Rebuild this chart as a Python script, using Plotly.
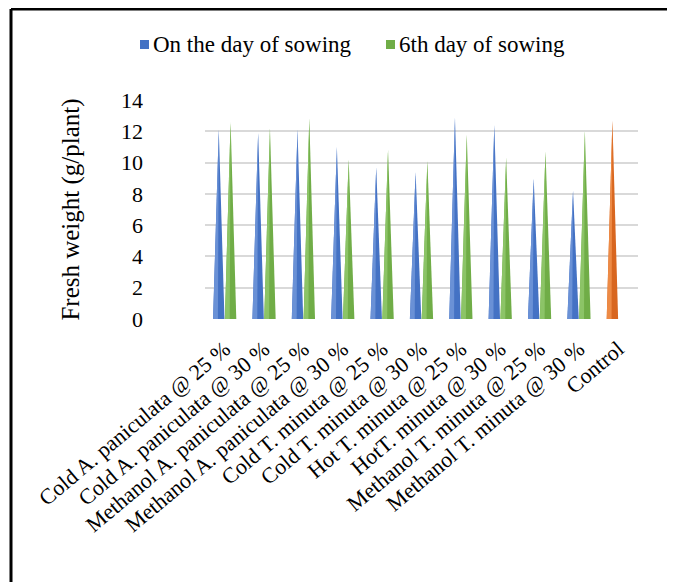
import plotly.graph_objects as go

# categories and values
categories = [
    "Cold A. paniculata @ 25 %",
    "Cold A. paniculata @ 30 %",
    "Methanol A. paniculata @ 25 %",
    "Methanol A. paniculata @ 30 %",
    "Cold T. minuta @ 25 %",
    "Cold T. minuta @ 30 %",
    "Hot T. minuta @ 25 %",
    "HotT. minuta @ 30 %",
    "Methanol T. minuta @ 25 %",
    "Methanol T. minuta @ 30 %",
    "Control",
]
day_of_sowing = [12.1, 11.9, 12.1, 11.0, 9.7, 9.4, 12.9, 12.4, 9.0, 8.2, 12.7]
sixth_day = [12.6, 12.2, 12.8, 10.2, 10.8, 10.1, 11.8, 10.3, 10.7, 12.0, None]
series_names = ["On the day of sowing", "6th day of sowing"]

BLUE = "#4472C4"
BLUE_LIGHT = "#6a91d6"
GREEN = "#70AD47"
GREEN_LIGHT = "#8cc467"
ORANGE = "#D8661F"
ORANGE_LIGHT = "#ed8a45"

FONT = "Liberation Serif"

# the page body adds 8px around the figure, so work in screen pixels minus that
OFF = 8
W, H = 675, 582
PL, PT, PW, PH = 205, 100, 433, 219   # plot area on screen
ML, MT = PL - OFF, PT - OFF
MR, MB = W - ML - PW, H - MT - PH


def px_x(x):
    # screen pixel -> paper x
    return (x - PL) / PW


def px_y(y):
    # screen pixel -> paper y
    return 1 - (y - PT) / PH


fig = go.Figure()


def add_cone(xc, val, color, light, half=0.145):
    # main body of the cone
    fig.add_trace(go.Scatter(
        x=[xc - half, xc, xc + half, xc - half],
        y=[0, val, 0, 0],
        fill="toself", fillcolor=color, mode="lines",
        line=dict(width=0, color=color), hoverinfo="skip", showlegend=False,
    ))
    # lighter left side for a bit of shading
    fig.add_trace(go.Scatter(
        x=[xc - half, xc, xc - half * 0.15, xc - half],
        y=[0, val, 0, 0],
        fill="toself", fillcolor=light, mode="lines",
        line=dict(width=0, color=light), hoverinfo="skip", showlegend=False,
    ))


for i, cat in enumerate(categories):
    v1 = day_of_sowing[i]
    v2 = sixth_day[i]
    if cat == "Control":
        add_cone(i - 0.15, v1, ORANGE, ORANGE_LIGHT)
    else:
        add_cone(i - 0.15, v1, BLUE, BLUE_LIGHT)
    if v2 is not None:
        add_cone(i + 0.15, v2, GREEN, GREEN_LIGHT)

# legend drawn by hand (a plotly legend outside the plot pushes the margins)
shapes = []
annotations = []
for name, color, sx in zip(series_names, [BLUE, GREEN], [140, 386]):
    shapes.append(dict(type="rect", xref="paper", yref="paper",
                       x0=px_x(sx), x1=px_x(sx + 9), y0=px_y(49), y1=px_y(40),
                       fillcolor=color, line=dict(width=0)))
    annotations.append(dict(text=name, xref="paper", yref="paper", x=px_x(sx + 11),
                            y=px_y(44), xanchor="left", yanchor="middle", showarrow=False,
                            font=dict(family=FONT, size=23, color="black")))

# frame lines (left and top only, as in the cropped original)
shapes.append(dict(type="line", xref="paper", yref="paper", x0=px_x(11), x1=px_x(11),
                   y0=px_y(9), y1=px_y(600), line=dict(color="black", width=3)))
shapes.append(dict(type="line", xref="paper", yref="paper", x0=px_x(11), x1=px_x(700),
                   y0=px_y(9), y1=px_y(9), line=dict(color="black", width=3)))

fig.update_layout(
    width=W, height=H,
    margin=dict(l=ML, r=MR, t=MT, b=MB),
    paper_bgcolor="white", plot_bgcolor="white",
    font=dict(family=FONT, size=22, color="black"),
    showlegend=False,
    xaxis=dict(
        range=[-0.5, 10.5], tickmode="array", tickvals=list(range(len(categories))),
        ticktext=categories, tickangle=-40, showgrid=False, zeroline=False,
        showline=False, ticks="", ticklabelstandoff=12, automargin=False,
        tickfont=dict(family=FONT, size=22),
    ),
    yaxis=dict(
        range=[0, 14], dtick=2, showgrid=True, gridcolor="#d9d9d9", gridwidth=2,
        zeroline=False, showline=False, ticklabelstandoff=61, automargin=False,
        tickfont=dict(family=FONT, size=22),
        title=dict(text="Fresh weight (g/plant)", font=dict(family=FONT, size=25), standoff=34),
    ),
    shapes=shapes,
    annotations=annotations,
)

fig.write_html("out.html")
